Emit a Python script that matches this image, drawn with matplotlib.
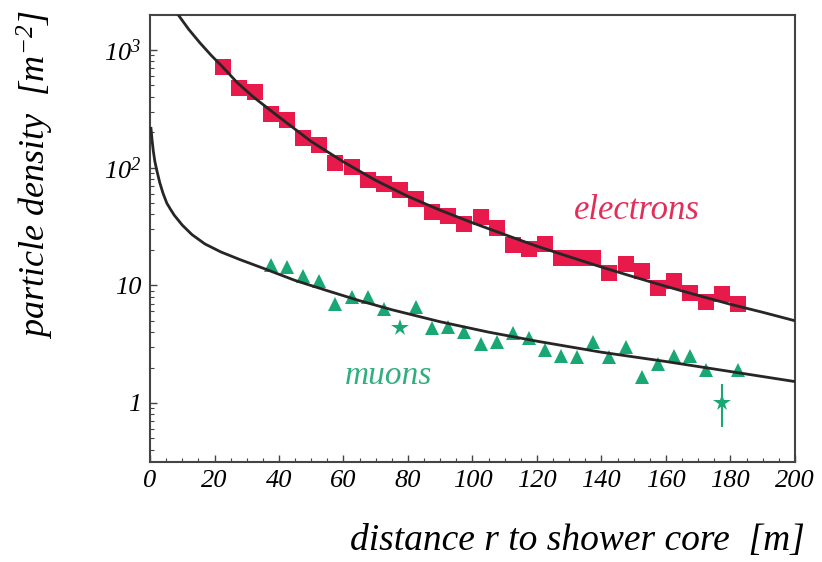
import numpy as np
import matplotlib
matplotlib.use("Agg")
import matplotlib.pyplot as plt
from matplotlib.ticker import FixedLocator, LogLocator, NullFormatter, MultipleLocator

plt.rcParams['font.family'] = ['Liberation Serif', 'DejaVu Serif']
plt.rcParams['font.style'] = 'italic'
plt.rcParams['mathtext.fontset'] = 'custom'
plt.rcParams['mathtext.rm'] = 'Liberation Serif:italic'
plt.rcParams['mathtext.it'] = 'Liberation Serif:italic'

# electron densities (squares)
electron_r = [22.5, 27.5, 32.5, 37.5, 42.5, 47.5, 52.5, 57.5, 62.5, 67.5, 72.5,
              77.5, 82.5, 87.5, 92.5, 97.5, 102.5, 107.5, 112.5, 117.5, 122.5,
              127.5, 132.5, 137.5, 142.5, 147.5, 152.5, 157.5, 162.5, 167.5,
              172.5, 177.5, 182.5]
electron_val = [716, 475, 439, 285, 253, 178, 155, 109, 101, 78, 72,
                65, 54, 42, 39, 33.5, 38, 31, 22, 20.5, 22.6,
                17, 17, 17, 12.7, 15.3, 13.2, 9.4, 10.9, 8.6,
                7.2, 8.4, 6.9]

# muon densities (triangles)
muon_r = [37.5, 42.5, 47.5, 52.5, 57.5, 62.5, 67.5, 72.5, 82.5, 87.5,
          92.5, 97.5, 102.5, 107.5, 112.5, 117.5, 122.5, 127.5, 132.5, 137.5,
          142.5, 147.5, 152.5, 157.5, 162.5, 167.5, 172.5, 182.5]
muon_val = [14.8, 14.3, 11.9, 10.9, 7.0, 7.9, 7.9, 6.3, 6.5, 4.3,
            4.4, 4.0, 3.2, 3.3, 3.9, 3.6, 2.8, 2.5, 2.45, 3.3,
            2.45, 3.0, 1.66, 2.15, 2.5, 2.5, 1.9, 1.9]

# muon points drawn as stars
muon_star_r = [77.5, 177.5]
muon_star_val = [4.3, 1.0]
muon_star_lo = [4.3, 0.62]
muon_star_hi = [4.3, 1.46]

# fitted lateral distribution curves
electron_fit_r = [8.7, 12, 15.5, 19, 22.5, 27, 32, 40, 50, 60, 70, 80, 90, 100,
                  110, 120, 130, 140, 150, 160, 170, 180, 190, 200]
electron_fit_val = [2000, 1500, 1150, 900, 720, 530, 400, 270, 167, 112, 78, 57,
                    43.5, 34, 27, 21.5, 17.5, 14.3, 11.8, 9.8, 8.2, 6.9, 5.9, 5.0]

muon_fit_r = [0.3, 0.6, 1.0, 1.5, 2.1, 3, 4, 5.2, 6.3, 7.5, 10, 13, 17, 22, 28,
              35, 45, 55, 65, 75, 90, 105, 120, 140, 160, 180, 200]
muon_fit_val = [216, 175, 140, 113, 95, 75, 61, 50, 44.5, 39.5, 32.5, 27, 22.5,
                19.2, 16.5, 14, 11, 9, 7.4, 6.2, 4.9, 4.0, 3.35, 2.7, 2.25, 1.85,
                1.52]

x_ticks = [0, 20, 40, 60, 80, 100, 120, 140, 160, 180, 200]
y_ticks = [1, 10, 100, 1000]
y_tick_labels = ['1', '10', r'$10^2$', r'$10^3$']

red = '#e8194b'
green = '#19a874'
line_col = '#262626'

fig = plt.figure(figsize=(8.22, 5.62), dpi=100)
ax = fig.add_axes([0.1825, 0.178, 0.7845, 0.7955])

ax.plot(electron_fit_r, electron_fit_val, color=line_col, lw=2.0, zorder=3)
ax.plot(muon_fit_r, muon_fit_val, color=line_col, lw=2.0, zorder=3)

ax.plot(electron_r, electron_val, 's', color=red, ms=11, mew=0, zorder=2)
ax.plot(muon_r, muon_val, '^', color=green, ms=10, mew=0, zorder=2)
ax.vlines(muon_star_r, muon_star_lo, muon_star_hi, color=green, lw=1.5, zorder=2)
ax.plot(muon_star_r, muon_star_val, '*', color=green, ms=13, mew=0, zorder=2)

ax.set_yscale('log')
ax.set_xlim(0, 200)
ax.set_ylim(0.315, 1990)

ax.yaxis.set_major_locator(FixedLocator(y_ticks))
ax.set_yticklabels(y_tick_labels)
ax.yaxis.set_minor_locator(LogLocator(base=10, subs=np.arange(2, 10)))
ax.yaxis.set_minor_formatter(NullFormatter())
ax.set_xticks(x_ticks)
ax.set_xticklabels([str(t) for t in x_ticks])
ax.xaxis.set_minor_locator(MultipleLocator(5))

ax.tick_params(which='both', direction='in', top=False, right=False,
               color='#444444', labelsize=19)
ax.tick_params(which='major', length=5, width=1.0, pad=6)
ax.tick_params(which='minor', length=3, width=0.8)
for sp in ax.spines.values():
    sp.set_color('#444444')
    sp.set_linewidth(1.5)

ax.text(151, 43, 'electrons', color='#e0305a', fontsize=25, ha='center', va='center')
ax.text(74, 1.7, 'muons', color='#2fae80', fontsize=24, ha='center', va='center')

fig.text(0.979, 0.037, 'distance r to shower core  [m]', fontsize=27,
         ha='right', va='center')
fig.text(0.043, 0.69, r'particle density  [m$^{-2}$]', fontsize=26,
         rotation=90, ha='center', va='center')

fig.savefig('out.png', dpi=100)
